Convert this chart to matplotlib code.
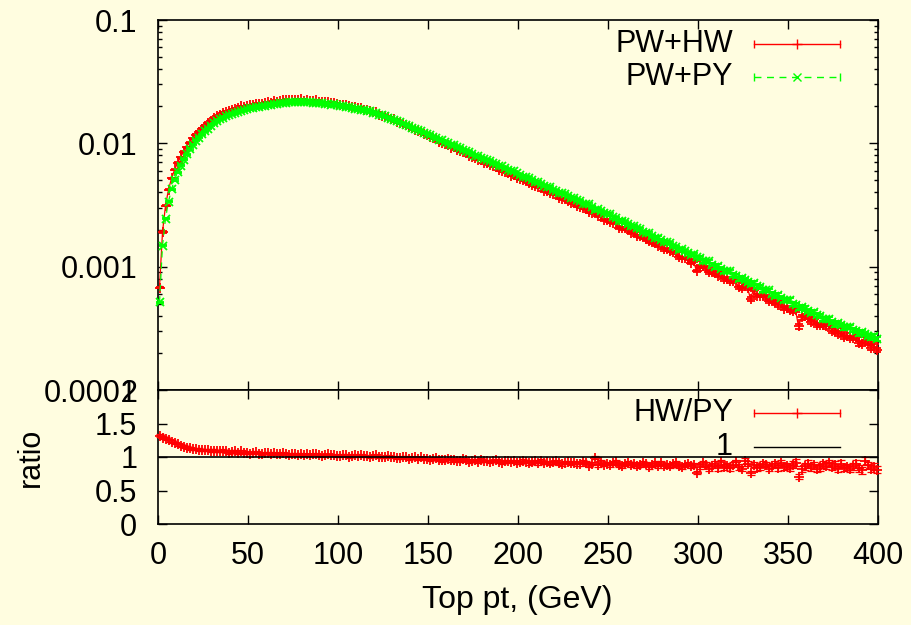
import numpy as np
import matplotlib
matplotlib.use('Agg')
import matplotlib.pyplot as plt
from matplotlib.ticker import FixedLocator, NullFormatter, LogLocator

plt.rcParams['font.family'] = ['Liberation Sans', 'DejaVu Sans']

# ---------------- data ----------------
pt_min, pt_max = 0.0, 400.0

# log10 of d(sigma)/d(pt) per bin, PW+HW (red)
log10_hw = [
    -3.170, -2.720, -2.505, -2.375, -2.285, -2.215, -2.160, -2.112, -2.070, -2.032,
    -1.994, -1.960, -1.931, -1.907, -1.883, -1.860, -1.838, -1.818, -1.798, -1.782,
    -1.769, -1.755, -1.744, -1.740, -1.729, -1.720, -1.716, -1.701, -1.706, -1.695,
    -1.693, -1.686, -1.678, -1.685, -1.680, -1.671, -1.666, -1.669, -1.656, -1.662,
    -1.656, -1.650, -1.648, -1.652, -1.649, -1.646, -1.649, -1.642, -1.653, -1.649,
    -1.653, -1.654, -1.651, -1.665, -1.668, -1.666, -1.667, -1.677, -1.672, -1.685,
    -1.686, -1.687, -1.692, -1.701, -1.704, -1.707, -1.715, -1.713, -1.729, -1.730,
    -1.739, -1.745, -1.748, -1.767, -1.775, -1.779, -1.786, -1.804, -1.805, -1.825,
    -1.833, -1.842, -1.853, -1.870, -1.879, -1.889, -1.903, -1.907, -1.928, -1.935,
    -1.949, -1.958, -1.965, -1.987, -1.998, -2.004,
    -2.013, -2.035, -2.030, -2.057, -2.063, -2.071, -2.081, -2.099, -2.109, -2.118,
    -2.132, -2.132, -2.159, -2.162, -2.175, -2.185, -2.189, -2.218, -2.225, -2.229,
    -2.239, -2.261, -2.256, -2.282,
    -2.289, -2.297, -2.307, -2.324, -2.335, -2.344, -2.357, -2.357, -2.385, -2.387,
    -2.400, -2.410, -2.414, -2.443, -2.450, -2.454, -2.464, -2.486, -2.481, -2.507,
    -2.515, -2.521, -2.532, -2.554, -2.564, -2.542, -2.589, -2.582, -2.620, -2.618,
    -2.634, -2.643, -2.642, -2.683, -2.690, -2.690, -2.698, -2.728, -2.715, -2.751,
    -2.755, -2.761, -2.772, -2.795, -2.804, -2.812, -2.829, -2.822, -2.860, -2.858,
    -2.874, -2.883, -2.883, -2.923, -2.930, -2.930, -2.938, -2.969, -2.955, -3.036,
    -2.997, -2.997, -3.009, -3.041, -3.045, -3.049, -3.073, -3.053, -3.104, -3.096,
    -3.116, -3.120, -3.112, -3.167, -3.175, -3.132, -3.171, -3.261, -3.186, -3.234,
    -3.234, -3.234, -3.246, -3.277, -3.281, -3.285, -3.309, -3.289, -3.340, -3.332,
    -3.352, -3.356, -3.349, -3.484, -3.412, -3.404, -3.408, -3.449, -3.424, -3.472,
    -3.472, -3.473, -3.485, -3.466, -3.518, -3.520, -3.542, -3.519, -3.569, -3.559,
    -3.577, -3.578, -3.568, -3.622, -3.628, -3.572, -3.619, -3.656, -3.631, -3.676,
]

# log10 of d(sigma)/d(pt) per bin, PW+PY (green)
log10_py = [
    -3.290, -2.830, -2.610, -2.472, -2.374, -2.297, -2.235, -2.180, -2.132, -2.088,
    -2.046, -2.010, -1.979, -1.953, -1.927, -1.902, -1.880, -1.858, -1.838, -1.820,
    -1.805, -1.795, -1.782, -1.768, -1.763, -1.756, -1.742, -1.737, -1.732, -1.723,
    -1.715, -1.714, -1.708, -1.707, -1.698, -1.695, -1.692, -1.689, -1.680, -1.678,
    -1.674, -1.674, -1.670, -1.664, -1.667, -1.668, -1.663, -1.664, -1.667, -1.665,
    -1.665, -1.670, -1.671, -1.677, -1.674, -1.678, -1.683, -1.687, -1.684, -1.691,
    -1.694, -1.701, -1.702, -1.703, -1.712, -1.719, -1.719, -1.726, -1.733, -1.736,
    -1.741, -1.751, -1.758, -1.769, -1.772, -1.781, -1.792, -1.803, -1.807, -1.820,
    -1.829, -1.843, -1.851, -1.859, -1.873, -1.886, -1.891, -1.904, -1.916, -1.923,
    -1.932, -1.946, -1.956, -1.969, -1.975, -1.986,
    -2.000, -2.012, -2.013, -2.030, -2.039, -2.055, -2.062, -2.067, -2.085, -2.100,
    -2.101, -2.115, -2.130, -2.135, -2.142, -2.160, -2.169, -2.186, -2.186, -2.199,
    -2.214, -2.227, -2.227, -2.244,
    -2.253, -2.270, -2.276, -2.281, -2.300, -2.315, -2.315, -2.330, -2.345, -2.350,
    -2.356, -2.375, -2.384, -2.401, -2.401, -2.414, -2.429, -2.442, -2.442, -2.459,
    -2.467, -2.488, -2.493, -2.495, -2.519, -2.537, -2.533, -2.551, -2.568, -2.571,
    -2.577, -2.600, -2.609, -2.629, -2.626, -2.640, -2.658, -2.673, -2.669, -2.690,
    -2.698, -2.719, -2.725, -2.727, -2.751, -2.768, -2.765, -2.783, -2.800, -2.803,
    -2.808, -2.832, -2.841, -2.861, -2.858, -2.872, -2.890, -2.905, -2.901, -2.921,
    -2.929, -2.953, -2.957, -2.956, -2.984, -3.004, -2.996, -3.016, -3.035, -3.035,
    -3.039, -3.067, -3.075, -3.098, -3.090, -3.106, -3.126, -3.142, -3.133, -3.157,
    -3.165, -3.189, -3.193, -3.192, -3.220, -3.239, -3.231, -3.251, -3.270, -3.270,
    -3.274, -3.302, -3.310, -3.333, -3.325, -3.340, -3.360, -3.376, -3.367, -3.390,
    -3.398, -3.422, -3.426, -3.424, -3.450, -3.467, -3.457, -3.473, -3.491, -3.488,
    -3.490, -3.514, -3.520, -3.541, -3.531, -3.544, -3.561, -3.574, -3.564, -3.585,
]

# relative statistical errors per 50 GeV range
relerr_edges = [0, 50, 100, 150, 200, 250, 300, 350, 400]
relerr_hw = [0.012, 0.008, 0.010, 0.013, 0.018, 0.025, 0.033, 0.042]
relerr_py = [0.012, 0.008, 0.010, 0.013, 0.018, 0.025, 0.033, 0.042]

x_ticks = [0, 50, 100, 150, 200, 250, 300, 350, 400]
y_ticks_top = [1e-4, 1e-3, 1e-2, 1e-1]
y_ticklabels_top = ['0.0001', '0.001', '0.01', '0.1']
ratio_ticks = [0, 0.5, 1, 1.5, 2]
ratio_ticklabels = ['0', '0.5', '1', '1.5', '2']
unity = 1.0

labels = ['PW+HW', 'PW+PY', 'HW/PY', '1']
x_label = 'Top pt, (GeV)'
ratio_label = 'ratio'

# ---------------- derived ----------------
n = len(log10_hw)
edges = np.linspace(pt_min, pt_max, n + 1)
pt = 0.5 * (edges[:-1] + edges[1:])
hw = 10 ** np.array(log10_hw)
py = 10 ** np.array(log10_py)
seg = np.clip(np.searchsorted(relerr_edges, pt) - 1, 0, len(relerr_hw) - 1)
rel_hw = np.array(relerr_hw)[seg]
rel_py = np.array(relerr_py)[seg]
hw_err = hw * rel_hw
py_err = py * rel_py
ratio = hw / py
ratio_err = ratio * np.sqrt(rel_hw ** 2 + rel_py ** 2)

# ---------------- styling ----------------
BG = '#fffde0'
RED = '#ff0000'
GREEN = '#00ff00'
FS = 22

fig = plt.figure(figsize=(9.11, 6.25), dpi=100, facecolor=BG)
ax1 = fig.add_axes([158 / 911, 1 - 390 / 625, 720 / 911, 370 / 625])
ax2 = fig.add_axes([158 / 911, 1 - 524 / 625, 720 / 911, 134 / 625])
for ax in (ax1, ax2):
    ax.set_facecolor(BG)
    for s in ax.spines.values():
        s.set_linewidth(1.2)
    ax.tick_params(which='both', direction='in', top=True, right=True,
                   width=1.0, labelsize=FS)
    ax.tick_params(which='major', length=6.5)
    ax.tick_params(which='minor', length=3.2)
    ax.tick_params(axis='y', pad=15)
    ax.tick_params(axis='x', pad=12)


def clipfree(cont):
    for art in cont.get_children():
        art.set_clip_on(False)


# upper panel
c1 = ax1.errorbar(pt, hw, yerr=hw_err, color=RED, lw=0.9, marker='+', ms=7,
                  mew=1.3, elinewidth=0.9, capsize=3, capthick=0.9, zorder=3)
clipfree(c1)
c2 = ax1.errorbar(pt, py, yerr=py_err, color=GREEN, lw=0.9, ls=(0, (5, 4)),
                  marker='x', ms=6, mew=1.3, elinewidth=0.9, capsize=3,
                  capthick=0.9, zorder=4)
clipfree(c2)
ax1.set_yscale('log')
ax1.set_xlim(pt_min, pt_max)
ax1.set_ylim(y_ticks_top[0], y_ticks_top[-1])
ax1.yaxis.set_major_locator(FixedLocator(y_ticks_top))
ax1.set_yticklabels(y_ticklabels_top)
ax1.yaxis.set_minor_locator(LogLocator(base=10, subs=np.arange(2, 10)))
ax1.yaxis.set_minor_formatter(NullFormatter())
ax1.set_xticks(x_ticks)
ax1.xaxis.set_minor_locator(FixedLocator([]))
ax1.tick_params(labelbottom=False)

# upper key (gnuplot style: text then sample)
kx0, kx1, kxm, ktx = 0.8278, 0.9472, 0.8875, 0.7986
for yk, lab, col, ls, mk in [(0.935, labels[0], RED, '-', '+'),
                             (0.846, labels[1], GREEN, (0, (5, 4)), 'x')]:
    ax1.text(ktx, yk, lab, transform=ax1.transAxes, ha='right', va='center',
             fontsize=FS)
    ax1.plot([kx0, kx1], [yk, yk], transform=ax1.transAxes, color=col, lw=1.0,
             ls=ls)
    ax1.plot([kx0, kx1], [yk, yk], transform=ax1.transAxes, color=col,
             ls='none', marker='|', ms=6, mew=1.0)
    ax1.plot([kxm], [yk], transform=ax1.transAxes, color=col, ls='none',
             marker=mk, ms=7 if mk == '+' else 6, mew=1.0)

# lower panel
c3 = ax2.errorbar(pt, ratio, yerr=ratio_err, fmt='none', ecolor=RED,
                  elinewidth=0.9, capsize=3, capthick=0.9, zorder=3)
clipfree(c3)
ax2.plot(pt, ratio, ls='none', marker='+', ms=7, mew=1.3, color=RED,
         zorder=3, clip_on=False)
ax2.axhline(unity, color='black', lw=1.2, zorder=4)
ax2.set_xlim(pt_min, pt_max)
ax2.set_ylim(ratio_ticks[0], ratio_ticks[-1])
ax2.set_yticks(ratio_ticks)
ax2.set_yticklabels(ratio_ticklabels)
ax2.set_xticks(x_ticks)
ax2.set_xticklabels([str(v) for v in x_ticks])

for yk, lab, col, hasbar in [(0.828, labels[2], RED, True),
                             (0.577, labels[3], 'black', False)]:
    ax2.text(ktx, yk, lab, transform=ax2.transAxes, ha='right', va='center',
             fontsize=FS)
    ax2.plot([kx0, kx1], [yk, yk], transform=ax2.transAxes, color=col, lw=1.0)
    if hasbar:
        ax2.plot([kx0, kx1], [yk, yk], transform=ax2.transAxes, color=col,
                 ls='none', marker='|', ms=6, mew=1.0)
        ax2.plot([kxm], [yk], transform=ax2.transAxes, color=col, ls='none',
                 marker='+', ms=7, mew=1.0)

fig.text(31 / 911, 1 - 457 / 625, ratio_label, rotation=90, ha='center',
         va='center', fontsize=FS)
fig.text(517 / 911, 1 - 600 / 625, x_label, ha='center', va='center',
         fontsize=FS + 1)

fig.savefig('out.png', dpi=100, facecolor=BG)
